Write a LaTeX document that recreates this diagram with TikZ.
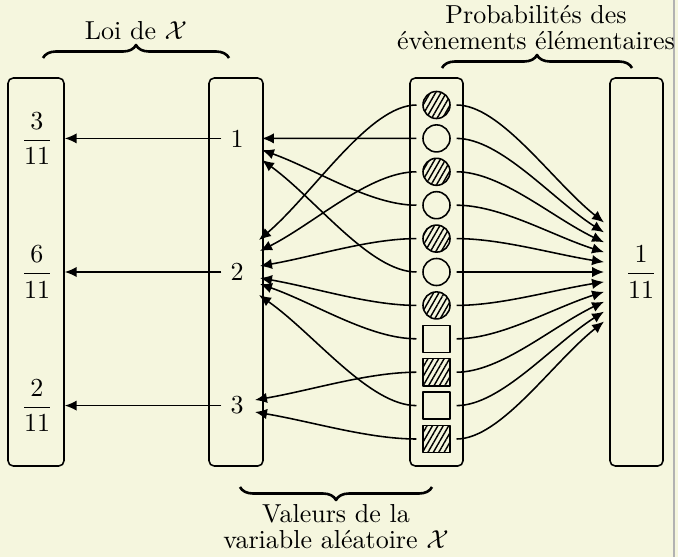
\documentclass[tikz,border=0pt]{standalone}
\usepackage{amsmath}
\usetikzlibrary{arrows.meta,calc,fit,decorations.pathreplacing,patterns.meta}
\definecolor{bgc}{RGB}{245,246,222}
\newcommand\lien[2]{\draw[arr] (#1) .. controls ($(#1)!0.3!(#1 -| #2)$) and ($(#2)!0.35!(#1)$) .. (#2);}
\begin{document}
\begin{tikzpicture}[x=0.3846pt,y=-0.3846pt, line join=round,
  panel/.style={draw, semithick, rounded corners=2pt, inner sep=0pt},
  arr/.style={semithick, -{Latex[length=4.6pt,width=4pt]}},
  item/.style={draw, semithick, minimum size=10.4pt, inner sep=0pt, outer sep=2.5pt},
  rond/.style={item, circle},
  carre/.style={item, rectangle},
  hach/.style={pattern={Lines[angle=60,distance=1.8pt,line width=0.55pt]}},
  accol/.style={decorate, decoration={brace, amplitude=5pt}, line width=1pt},
  ]
\fill[bgc] (0,0) rectangle (678,557);
\useasboundingbox (0,0) rectangle (678,557);
\draw[gray!60, line width=0.5pt] (674,0) -- (674,557);

% panels
\node[panel, fit={(8,78) (64,466)}] (lbox) {};
\node[panel, fit={(209,78) (263,466)}] (mbox) {};
\node[panel, fit={(410,78) (463,466)}] (ibox) {};
\node[panel, fit={(610,78) (663,466)}] (rbox) {};

% items
\node[rond, hach]  (i1)  at (436.5,105) {};
\node[rond]        (i2)  at (436.5,138.4) {};
\node[rond, hach]  (i3)  at (436.5,171.8) {};
\node[rond]        (i4)  at (436.5,205.2) {};
\node[rond, hach]  (i5)  at (436.5,238.6) {};
\node[rond]        (i6)  at (436.5,272) {};
\node[rond, hach]  (i7)  at (436.5,305.4) {};
\node[carre]       (i8)  at (436.5,338.8) {};
\node[carre, hach] (i9)  at (436.5,372.2) {};
\node[carre]       (i10) at (436.5,405.6) {};
\node[carre, hach] (i11) at (436.5,439) {};

% values
\node (v1) at (237,138.4) {1};
\node (v2) at (237,272) {2};
\node (v3) at (237,405.6) {3};

% fractions
\node (f1) at (37,138.4) {$\dfrac{3}{11}$};
\node (f2) at (37,272) {$\dfrac{6}{11}$};
\node (f3) at (37,405.6) {$\dfrac{2}{11}$};
\node (f4) at (641,272) {$\dfrac{1}{11}$};

% end points near the values
\coordinate (e11) at (262,138.4);
\coordinate (e12) at (262,150);
\coordinate (e13) at (262,160);
\coordinate (e21) at (259,240);
\coordinate (e22) at (260,251);
\coordinate (e23) at (260,266);
\coordinate (e24) at (260,278);
\coordinate (e25) at (260,284);
\coordinate (e26) at (259,295);
\coordinate (e31) at (255,400);
\coordinate (e32) at (255,412);

\lien{i2.west}{e11}
\lien{i4.west}{e12}
\lien{i6.west}{e13}
\lien{i1.west}{e21}
\lien{i3.west}{e22}
\lien{i5.west}{e23}
\lien{i7.west}{e24}
\lien{i8.west}{e25}
\lien{i10.west}{e26}
\lien{i9.west}{e31}
\lien{i11.west}{e32}

% end points near 1/11
\foreach \k in {1,...,11}{
  \coordinate (r\k) at (604,{272+9.9*(\k-6)});
}
\foreach \k in {1,...,11}{
  \lien{i\k.east}{r\k}
}

% values to law
\draw[arr] (v1.west) -- (v1.west -| lbox.east);
\draw[arr] (v2.west) -- (v2.west -| lbox.east);
\draw[arr] (v3.west) -- (v3.west -| lbox.east);

% braces and labels
\draw[accol] (43,58) -- (229,58);
\node (t1) at (136,31) {Loi de $\mathcal{X}$};
\draw[accol] (442,68) -- (632,68);
\node[align=center] (t2) at (536,28) {Probabilités des\\[-2pt]évènements élémentaires};
\draw[accol] (432,487) -- (240,487);
\node[align=center] (t3) at (336,527) {Valeurs de la\\[-2pt]variable aléatoire $\mathcal{X}$};
\end{tikzpicture}
\end{document}
